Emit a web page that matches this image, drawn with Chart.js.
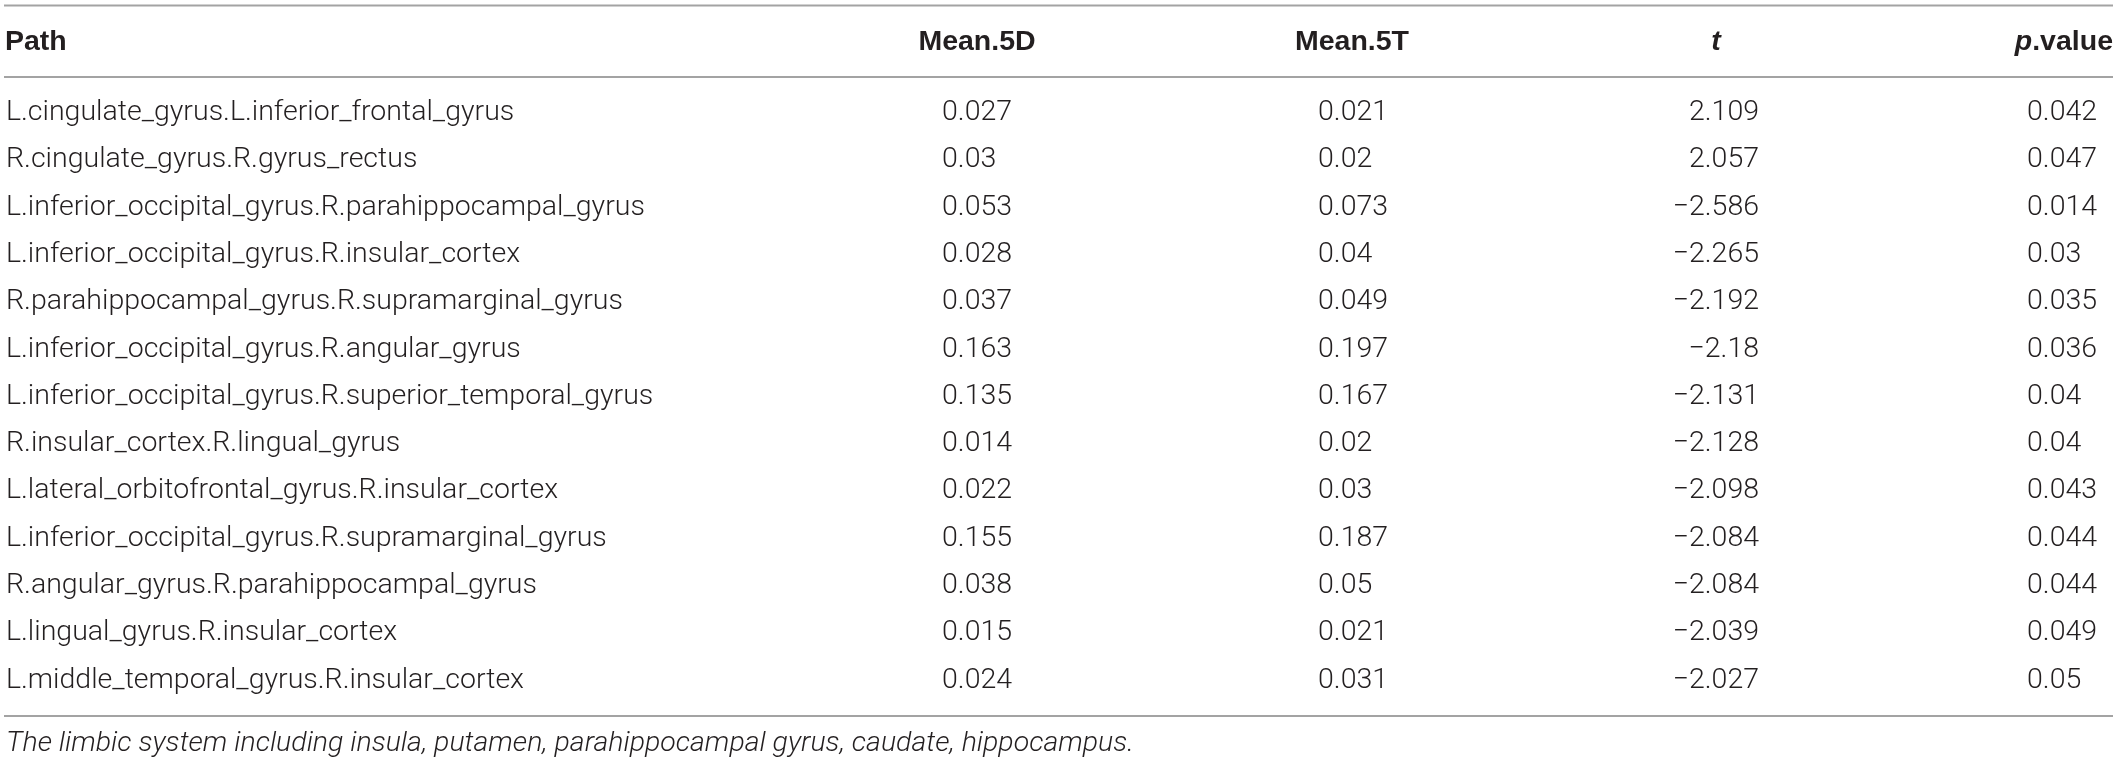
<!DOCTYPE html>
<html>
<head>
<meta charset="utf-8">
<script src="https://cdn.jsdelivr.net/npm/chart.js@4.4.0/dist/chart.umd.min.js"></script>
<style>
  html, body { margin: 0; padding: 0; background: #fff; }
  #wrap { width: 2120px; height: 764px; position: relative; }
</style>
</head>
<body>
<div id="wrap"><canvas id="pathTable"></canvas></div>
<script>
// Table data
const headers = ['Path', 'Mean.5D', 'Mean.5T', 't', 'p.value'];
const paths = [
    'L.cingulate_gyrus.L.inferior_frontal_gyrus',
    'R.cingulate_gyrus.R.gyrus_rectus',
    'L.inferior_occipital_gyrus.R.parahippocampal_gyrus',
    'L.inferior_occipital_gyrus.R.insular_cortex',
    'R.parahippocampal_gyrus.R.supramarginal_gyrus',
    'L.inferior_occipital_gyrus.R.angular_gyrus',
    'L.inferior_occipital_gyrus.R.superior_temporal_gyrus',
    'R.insular_cortex.R.lingual_gyrus',
    'L.lateral_orbitofrontal_gyrus.R.insular_cortex',
    'L.inferior_occipital_gyrus.R.supramarginal_gyrus',
    'R.angular_gyrus.R.parahippocampal_gyrus',
    'L.lingual_gyrus.R.insular_cortex',
    'L.middle_temporal_gyrus.R.insular_cortex'
];
const mean5D = [0.027, 0.03, 0.053, 0.028, 0.037, 0.163, 0.135, 0.014, 0.022, 0.155, 0.038, 0.015, 0.024];
const mean5T = [0.021, 0.02, 0.073, 0.04, 0.049, 0.197, 0.167, 0.02, 0.03, 0.187, 0.05, 0.021, 0.031];
const tStat = [2.109, 2.057, -2.586, -2.265, -2.192, -2.18, -2.131, -2.128, -2.098, -2.084, -2.084, -2.039, -2.027];
const pValue = [0.042, 0.047, 0.014, 0.03, 0.035, 0.036, 0.04, 0.04, 0.043, 0.044, 0.044, 0.049, 0.05];
const footnote = 'The limbic system including insula, putamen, parahippocampal gyrus, caudate, hippocampus.';

// Layout (pixels on the x scale, which spans the full canvas width)
const colAnchor = [6, 942, 1318, 1759, 2027];
const colAlign = ['left', 'left', 'left', 'right', 'left'];
const headAnchor = [5, 977, 1352, 1716, 2113];
const headAlign = ['left', 'center', 'center', 'center', 'right'];
const rule = { left: 4, right: 2113, top: 5.5, head: 77, bottom: 716 };
const headY = 42;
const noteY = 744;

const BODY_FONT = '300 28.5px Roboto, "Liberation Sans", sans-serif';
const HEAD_FONT = 'bold 28.5px "Liberation Sans", Arial, sans-serif';
const NOTE_FONT = 'italic 300 28.5px Roboto, "Liberation Sans", sans-serif';
const INK = '#231f20';
const RULE = '#a3a3a3';

function fmt(v) {
    return String(v).replace('-', '\u2212');
}

const columns = [paths, mean5D, mean5T, tStat, pValue];

// one scatter dataset per column, one point per row
const datasets = columns.map(function(col, k) {
    return {
        label: headers[k],
        data: col.map(function(v, i) { return { x: colAnchor[k], y: i }; }),
        pointRadius: 0,
        pointHoverRadius: 0
    };
});

const tablePlugin = {
    id: 'tableText',
    afterDatasetsDraw: function(chart) {
        const ctx = chart.ctx;
        const xs = chart.scales.x;
        ctx.save();

        // rules
        ctx.strokeStyle = RULE;
        ctx.lineWidth = 2;
        [rule.top, rule.head, rule.bottom].forEach(function(y) {
            ctx.beginPath();
            ctx.moveTo(xs.getPixelForValue(rule.left), y);
            ctx.lineTo(xs.getPixelForValue(rule.right), y);
            ctx.stroke();
        });

        // header row
        ctx.fillStyle = INK;
        ctx.textBaseline = 'middle';
        headers.forEach(function(h, k) {
            const x = xs.getPixelForValue(headAnchor[k]);
            if (h === 't') {
                ctx.font = 'italic ' + HEAD_FONT;
                ctx.textAlign = 'center';
                ctx.fillText('t', x, headY);
            } else if (h === 'p.value') {
                ctx.font = HEAD_FONT;
                const rest = '.value';
                const wRest = ctx.measureText(rest).width;
                ctx.textAlign = 'right';
                ctx.fillText(rest, x, headY);
                ctx.font = 'italic ' + HEAD_FONT;
                ctx.fillText('p', x - wRest, headY);
            } else {
                ctx.font = HEAD_FONT;
                ctx.textAlign = headAlign[k];
                ctx.fillText(h, x, headY);
            }
        });

        // body cells at the points' scale positions
        ctx.font = BODY_FONT;
        chart.data.datasets.forEach(function(ds, k) {
            const meta = chart.getDatasetMeta(k);
            ctx.textAlign = colAlign[k];
            meta.data.forEach(function(pt, i) {
                const v = columns[k][i];
                const txt = (k === 0) ? v : fmt(v);
                ctx.fillText(txt, pt.x, pt.y);
            });
        });

        // footnote
        ctx.font = NOTE_FONT;
        ctx.textAlign = 'left';
        ctx.fillText(footnote, xs.getPixelForValue(6), noteY);
        ctx.restore();
    }
};

document.addEventListener('DOMContentLoaded', function() {
    const ctx = document.getElementById('pathTable').getContext('2d');
    window.pathTable = new Chart(ctx, {
        type: 'scatter',
        data: { datasets: datasets },
        options: {
            responsive: true,
            maintainAspectRatio: false,
            animation: false,
            events: [],
            layout: { padding: { top: 89.4, bottom: 59.9, left: 0, right: 0 } },
            plugins: {
                legend: { display: false },
                tooltip: { enabled: false }
            },
            scales: {
                x: { type: 'linear', min: 0, max: 2120, display: false },
                y: {
                    type: 'category',
                    labels: paths.map(function(p, i) { return i; }),
                    offset: true,
                    display: false
                }
            }
        },
        plugins: [tablePlugin]
    });
});
</script>
</body>
</html>
